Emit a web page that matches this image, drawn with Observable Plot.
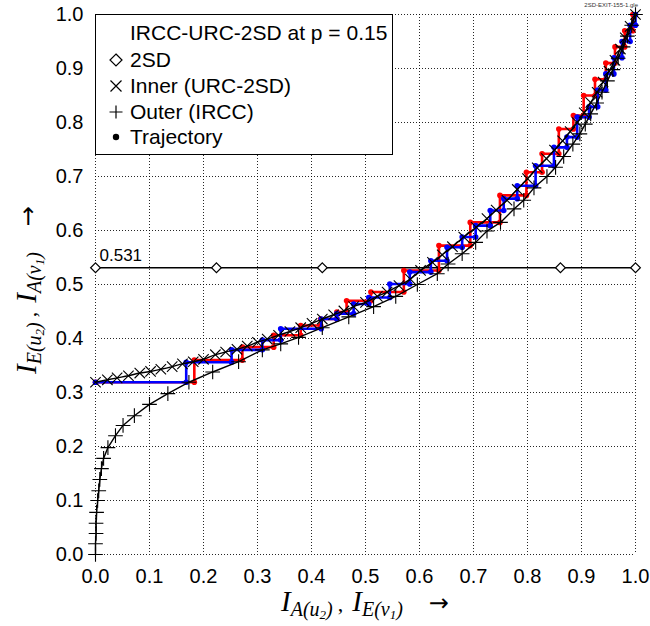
<!DOCTYPE html>
<html><head><meta charset="utf-8">
<script src="https://cdn.jsdelivr.net/npm/d3@7"></script>
<script src="https://cdn.jsdelivr.net/npm/@observablehq/plot@0.6"></script>
<style>
body{margin:0;background:#fff;}
#wrap{position:relative;width:650px;height:626px;font-family:"Liberation Sans",Arial,sans-serif;color:#000;overflow:hidden;}
#chart svg{display:block;}
.abs{position:absolute;}
#lbox{position:absolute;left:95px;top:14px;width:298px;height:141px;border:1.5px solid #000;background:#fff;box-sizing:border-box;}
.ltxt{position:absolute;font-size:21px;line-height:22px;height:22px;white-space:nowrap;}
.lsym{position:absolute;width:16px;height:16px;}
.ax{position:absolute;font-family:"Liberation Serif","Times New Roman",serif;font-style:italic;white-space:nowrap;text-align:center;line-height:30px;height:30px;}
.ax .I{font-size:29px;}
.ax .s{font-size:20px;position:relative;top:5px;}
.ax .ss{font-size:13px;position:relative;top:3px;}
.ax .c{font-style:normal;font-size:22px;margin:0 9px 0 5px;}
.ax .arr{font-family:"DejaVu Sans",sans-serif;font-style:normal;font-size:24px;margin-left:26px;}
#fname{position:absolute;right:12px;top:2px;font-size:6px;color:#333;}
</style></head>
<body>
<div id="wrap"><div id="chart"></div></div>
<script>
// ---------- data ----------
const ticks = [0, 0.1, 0.2, 0.3, 0.4, 0.5, 0.6, 0.7, 0.8, 0.9, 1.0];
const legendTitle = "IRCC-URC-2SD at p = 0.15";
const legendNames = ["2SD", "Inner (URC-2SD)", "Outer (IRCC)", "Trajectory"];
const fileName = "2SD-EXIT-155-1.gle";

// 2SD (horizontal) curve
const sdLevel = 0.531;
const sdX = [0, 0.224, 0.42, 0.861, 1.0];

// Inner (URC-2SD) curve, x markers
const innerX = [0, .022, .04, .061, .082, .102, .121, .142, .161, .181, .2, .222, .241, .262, .281, .3, .318, .339, .36, .38, .401, .42, .441, .46, .478, .5, .522, .54, .562, .583, .602, .624, .642, .661, .682, .705, .725, .742, .762, .781, .8, .818, .835, .85, .865, .879, .892, .905, .917, .929, .94, .951, .962, .972, .981, .99, 1];
const innerY = [.319, .3235, .327, .331, .336, .339, .343, .348, .353, .357, .3615, .37, .375, .38, .386, .393, .399, .406, .413, .42, .428, .436, .444, .451, .459, .467, .478, .486, .498, .51, .526, .541, .555, .57, .588, .606, .622, .638, .656, .676, .696, .716, .733, .749, .766, .783, .8, .818, .837, .856, .875, .895, .915, .936, .957, .978, 1];

// Outer (IRCC) curve, + markers
const outerX = [0, 0, .001, .001, .002, .004, .006, .008, .011, .015, .023, .037, .051, .072, .1, .134, .173, .217, .265, .309, .343, .376, .42, .469, .515, .556, .596, .633, .653, .679, .704, .725, .75, .775, .793, .812, .836, .852, .867, .884, .897, .907, .917, .928, .938, .948, .958, .968, .977, .985, .993, 1];
const outerY = [0, .02, .039, .058, .078, .1, .118, .139, .159, .178, .198, .22, .239, .257, .278, .298, .319, .338, .357, .379, .39, .402, .42, .44, .459, .478, .5, .52, .538, .557, .578, .599, .615, .64, .656, .679, .7, .717, .737, .76, .779, .797, .816, .836, .856, .877, .898, .919, .94, .96, .98, 1];

// Trajectories: levels (I_E after each vertical step) and reach (I_A after each horizontal step)
const blueLevels = [.319, .356, .379, .397, .418, .436, .446, .464, .476, .501, .523, .544, .569, .588, .609, .637, .659, .683, .72, .754, .773, .81, .829, .86, .89, .92, .95, .98, 1];
const blueReach  = [.168, .252, .309, .343, .418, .447, .478, .506, .545, .582, .621, .651, .679, .704, .731, .756, .781, .815, .849, .873, .892, .914, .93, .945, .96, .975, .99, 1];
const redLevels  = [.319, .36, .384, .406, .424, .436, .449, .47, .486, .526, .572, .615, .665, .708, .742, .788, .813, .85, .88, .91, .94, .97, 1];
const redReach   = [.183, .272, .33, .38, .417, .447, .465, .51, .571, .636, .694, .749, .798, .827, .858, .885, .904, .925, .945, .962, .98, .995];

// ---------- build tables ----------
const zip = (xs, ys) => xs.map((x, i) => ({x, y: ys[i]}));
const sd = sdX.map(x => ({x, y: sdLevel}));
const inner = zip(innerX, innerY);
const outer = zip(outerX, outerY);
function stairs(levels, reach) {
  const pts = [{x: 0, y: levels[0]}];
  reach.forEach((r, i) => { pts.push({x: r, y: levels[i]}); pts.push({x: r, y: levels[i + 1]}); });
  return pts;
}
const blue = stairs(blueLevels, blueReach);
const red = stairs(redLevels, redReach);

const fmt = d3.format(".1f");
const grid = {stroke: "#000", strokeOpacity: 0.85, strokeWidth: 1, strokeDasharray: "1,2"};

const chart = Plot.plot({
  width: 650, height: 626,
  marginLeft: 95, marginRight: 15, marginTop: 14, marginBottom: 72,
  x: {domain: [0, 1]},
  y: {domain: [0, 1]},
  style: {fontFamily: "'Liberation Sans', Arial, sans-serif", background: "#fff", color: "#000"},
  marks: [
    Plot.gridX(ticks, grid),
    Plot.gridY(ticks, grid),
    Plot.line(sd, {x: "x", y: "y", stroke: "#000", strokeWidth: 1.5}),
    Plot.dot(sd, {x: "x", y: "y", symbol: "diamond2", r: 4.4, fill: "#fff", stroke: "#000", strokeWidth: 1.2}),
    Plot.text([sdLevel], {x: 0, y: d => d, text: d => d3.format(".3f")(d), textAnchor: "start", dx: 4, dy: -12, fontSize: 17}),
    Plot.line(red, {x: "x", y: "y", stroke: "#ff0000", strokeWidth: 2.6}),
    Plot.dot(red, {x: "x", y: "y", r: 2.8, fill: "#ff0000"}),
    Plot.line(blue, {x: "x", y: "y", stroke: "#0000ff", strokeWidth: 2.6}),
    Plot.dot(blue, {x: "x", y: "y", r: 2.8, fill: "#0000ff"}),
    Plot.line(inner, {x: "x", y: "y", stroke: "#000", strokeWidth: 1.4, curve: "monotone-x"}),
    Plot.dot(inner, {x: "x", y: "y", symbol: "times", r: 4.8, stroke: "#000", strokeWidth: 1.1}),
    Plot.line(outer, {x: "x", y: "y", stroke: "#000", strokeWidth: 1.4}),
    Plot.dot(outer, {x: "x", y: "y", symbol: "plus", r: 4.8, stroke: "#000", strokeWidth: 1.1}),
    Plot.axisX(ticks, {tickSize: 0, tickPadding: 14, tickFormat: fmt, fontSize: 20, label: null}),
    Plot.axisY(ticks, {tickSize: 0, tickPadding: 12, tickFormat: fmt, fontSize: 20, label: null})
  ]
});
const wrap = document.getElementById("wrap");
document.getElementById("chart").appendChild(chart);

// ---------- legend (overlay inside the plot frame) ----------
function add(html, cls, style) {
  const d = document.createElement("div");
  d.className = cls; d.innerHTML = html; Object.assign(d.style, style); wrap.appendChild(d); return d;
}
add("", "", {}).id = "lbox";
add(legendTitle, "ltxt", {left: "130px", top: "22px"});
const symbols = [
  '<svg class="lsym" viewBox="-8 -8 16 16"><path d="M0,-6L6,0L0,6L-6,0Z" fill="none" stroke="#000" stroke-width="1.2"/></svg>',
  '<svg class="lsym" viewBox="-8 -8 16 16"><path d="M-5.5,-5.5L5.5,5.5M-5.5,5.5L5.5,-5.5" stroke="#000" stroke-width="1.2"/></svg>',
  '<svg class="lsym" viewBox="-8 -8 16 16"><path d="M-6.5,0L6.5,0M0,-6.5L0,6.5" stroke="#000" stroke-width="1.2"/></svg>',
  '<svg class="lsym" viewBox="-8 -8 16 16"><circle r="3.2" fill="#000"/></svg>'
];
const rowY = [60, 86, 112, 137];
legendNames.forEach((n, i) => {
  add(n, "ltxt", {left: "130px", top: (rowY[i] - 11) + "px"});
  add(symbols[i], "abs", {left: "108px", top: (rowY[i] - 8) + "px", width: "16px", height: "16px"});
});

// ---------- axis titles ----------
const lab = (a, b) => '<span class="I">I</span><span class="s">' + a + '</span><span class="c">,</span><span class="I">I</span><span class="s">' + b + '</span><span class="arr">&#8594;</span>';
add(lab('A(u<span class="ss">2</span>)', 'E(v<span class="ss">1</span>)'), "ax", {left: (365 - 160) + "px", top: "586px", width: "320px"});
add(lab('E(u<span class="ss">2</span>)', 'A(v<span class="ss">1</span>)'), "ax", {left: (26 - 160) + "px", top: (290 - 15) + "px", width: "320px", transform: "rotate(-90deg)"});
add(fileName, "", {}).id = "fname";
</script>
</body></html>
